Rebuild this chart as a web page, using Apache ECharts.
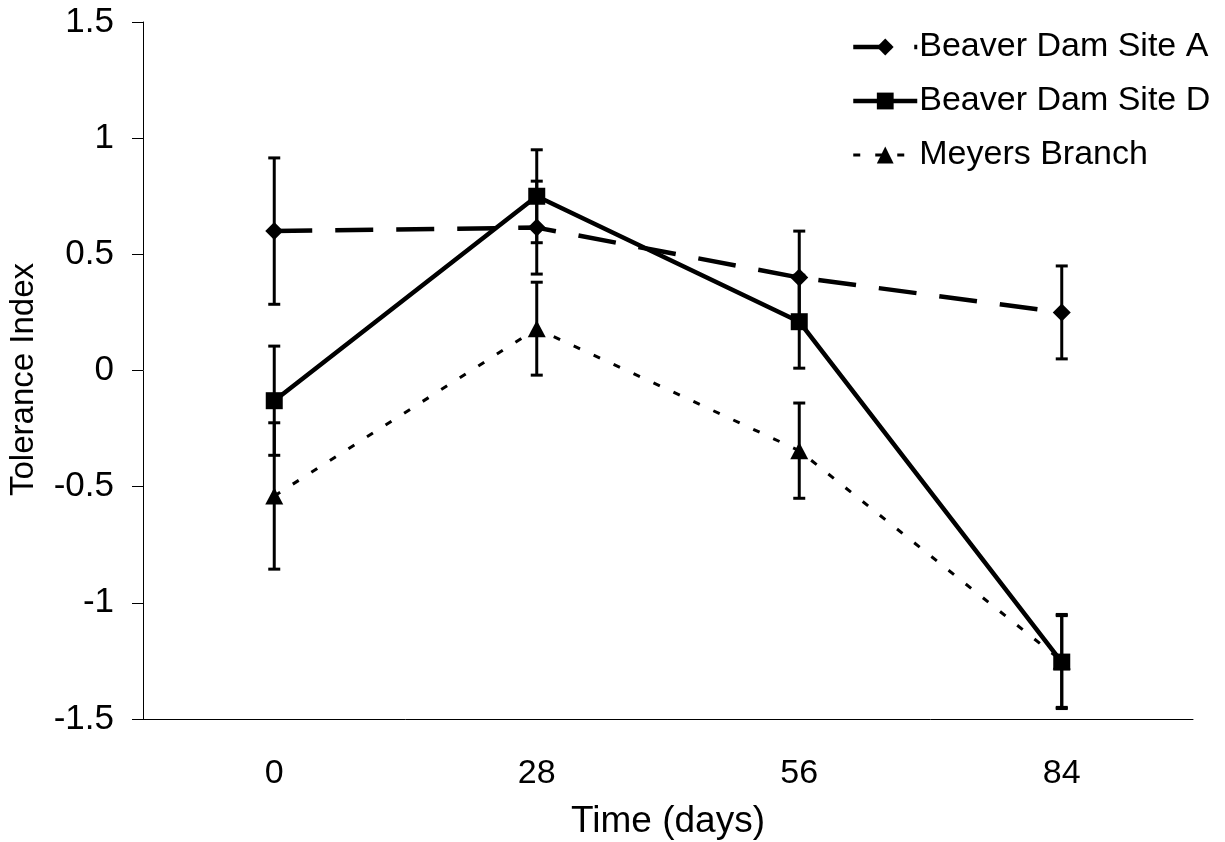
<!DOCTYPE html>
<html>
<head>
<meta charset="utf-8">
<title>Tolerance Index over time</title>
<script src="https://cdn.jsdelivr.net/npm/echarts@6/dist/echarts.min.js"></script>
<style>
  html, body { margin: 0; padding: 0; background: #ffffff; }
  #chart { width: 1225px; height: 842px; }
</style>
</head>
<body>
<div id="chart"></div>
<script>
// Sampling days (category axis)
const days = ['0', '28', '56', '84'];

// Mean tolerance index per site
const siteA = [0.60, 0.615, 0.40, 0.25];
const siteD = [-0.13, 0.75, 0.21, -1.255];
const meyers = [-0.54, 0.18, -0.345, -1.25];

// Error (± half-range) per site
const errA = [0.315, 0.20, 0.20, 0.20];
const errD = [0.235, 0.20, 0.20, 0.20];
const errM = [0.315, 0.20, 0.205, 0.20];

const seriesNames = ['Beaver Dam Site A', 'Beaver Dam Site D', 'Meyers Branch'];
const FONT = '"Liberation Sans", Arial, Helvetica, sans-serif';

// Line styles shared by each series and its legend entry
const styleA = { color: '#000', width: 4.5, type: [38, 23] };
const styleD = { color: '#000', width: 4.5, type: 'solid' };
const styleM = { color: '#000', width: 3, type: [7, 15] };

// rows of [categoryIndex, low, high] for the error-bar series
function errRows(vals, errs) {
  return vals.map((v, i) => [i, v - errs[i], v + errs[i]]);
}

function renderErrorBar(params, api) {
  const x = api.value(0);
  const lo = api.coord([x, api.value(1)]);
  const hi = api.coord([x, api.value(2)]);
  const cap = 6;
  const style = { stroke: '#000', lineWidth: 3, fill: null };
  return {
    type: 'group',
    children: [
      { type: 'line', shape: { x1: hi[0], y1: hi[1], x2: lo[0], y2: lo[1] }, style },
      { type: 'line', shape: { x1: hi[0] - cap, y1: hi[1], x2: hi[0] + cap, y2: hi[1] }, style },
      { type: 'line', shape: { x1: lo[0] - cap, y1: lo[1], x2: lo[0] + cap, y2: lo[1] }, style }
    ]
  };
}

const errorSeries = [[siteA, errA], [siteD, errD], [meyers, errM]].map(([v, e]) => ({
  type: 'custom',
  renderItem: renderErrorBar,
  data: errRows(v, e),
  encode: { x: 0, y: [1, 2] },
  silent: true,
  z: 1
}));

const chart = echarts.init(document.getElementById('chart'), null, { renderer: 'canvas' });

chart.setOption({
  animation: false,
  backgroundColor: '#ffffff',
  textStyle: { fontFamily: FONT, color: '#000' },
  grid: { left: 143, right: 32, top: 22, bottom: 123, containLabel: false, outerBoundsMode: 'none' },
  legend: {
    orient: 'vertical',
    left: 846,
    top: 25,
    itemWidth: 64,
    itemHeight: 21,
    itemGap: 20,
    data: [
      { name: seriesNames[0], lineStyle: styleA },
      { name: seriesNames[1], lineStyle: styleD },
      { name: seriesNames[2], lineStyle: styleM }
    ],
    textStyle: { fontFamily: FONT, fontSize: 34, color: '#000', padding: [0, 0, 0, -3] }
  },
  xAxis: {
    type: 'category',
    data: days,
    boundaryGap: true,
    name: 'Time (days)',
    nameLocation: 'middle',
    nameGap: 84,
    nameTextStyle: { fontFamily: FONT, fontSize: 37, color: '#000' },
    axisLine: { onZero: false, lineStyle: { color: '#000', width: 1 } },
    axisTick: { length: 11, lineStyle: { color: '#000', width: 1 } },
    axisLabel: { margin: 38, fontSize: 34, color: '#000', fontFamily: FONT },
    splitLine: { show: false }
  },
  yAxis: {
    type: 'value',
    min: -1.5,
    max: 1.5,
    interval: 0.5,
    name: 'Tolerance Index',
    nameLocation: 'middle',
    nameGap: 103,
    nameRotate: 90,
    nameTextStyle: { fontFamily: FONT, fontSize: 33, color: '#000', padding: [0, 18, 0, 0] },
    axisLine: { show: true, lineStyle: { color: '#000', width: 1 } },
    axisTick: { show: true, length: 11, lineStyle: { color: '#000', width: 1 } },
    axisLabel: { margin: 29, fontSize: 35, color: '#000', fontFamily: FONT },
    splitLine: { show: false }
  },
  series: [
    ...errorSeries,
    {
      name: 'Meyers Branch',
      type: 'line',
      data: meyers,
      symbol: 'triangle',
      symbolSize: [18, 17],
      lineStyle: styleM,
      itemStyle: { color: '#000', borderWidth: 0 },
      z: 2
    },
    {
      name: 'Beaver Dam Site A',
      type: 'line',
      data: siteA,
      symbol: 'diamond',
      symbolSize: [18, 18],
      lineStyle: styleA,
      itemStyle: { color: '#000', borderWidth: 0 },
      z: 3
    },
    {
      name: 'Beaver Dam Site D',
      type: 'line',
      data: siteD,
      symbol: 'rect',
      symbolSize: 17,
      lineStyle: styleD,
      itemStyle: { color: '#000', borderWidth: 0 },
      z: 4
    }
  ]
});
</script>
</body>
</html>
